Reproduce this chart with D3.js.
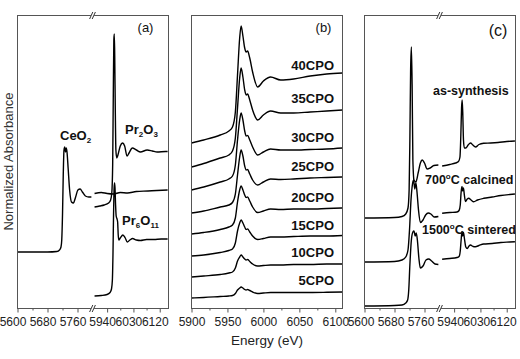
<!DOCTYPE html>
<html>
<head>
<meta charset="utf-8">
<script src="https://cdn.jsdelivr.net/npm/d3@7"></script>
<style>
  body { margin: 0; background: #fff; }
  svg { display: block; font-family: "Liberation Sans", Arial, sans-serif; }
</style>
</head>
<body>
<div id="chart"></div>
<script>
// ---------- data (energy in eV, normalized absorbance with stacking offset) ----------

// tick labels
var ticksCe = [5600, 5680, 5760];
var minorCe = [5640, 5720];
var ticksPr = [5940, 6030, 6120];
var minorPr = [5985, 6075];
var ticksB = [5900, 5950, 6000, 6050, 6100];
var minorB = [5925, 5975, 6025, 6075];

// panel (a): references
var ceo2Ce = [[5600,0.56],[5680,0.56],[5705,0.565],[5712,0.58],[5716,0.61],[5718,0.68],[5720,0.93],[5722,1.33],
  [5724,1.58],[5726,1.61],[5728,1.56],[5730,1.60],[5732,1.56],[5735,1.40],[5739,1.18],[5744,1.06],[5749,1.05],
  [5755,1.11],[5761,1.18],[5767,1.19],[5773,1.16],[5781,1.12],[5790,1.11],[5797,1.11]];
var ceo2Pr = [[5897,1.145],[5920,1.155],[5940,1.145],[5962,1.14],[5985,1.155],[6010,1.15],[6040,1.165],
  [6080,1.17],[6110,1.175],[6147,1.18]];
var pr2o3 = [[5897,1.01],[5915,1.02],[5930,1.03],[5945,1.05],[5952,1.08],[5956,1.15],[5959,1.43],[5961,2.08],
  [5963,2.68],[5964.5,2.74],[5966,2.53],[5968,1.98],[5970,1.58],[5973,1.50],[5977,1.53],[5985,1.62],[5993,1.65],
  [6000,1.62],[6008,1.52],[6015,1.55],[6026,1.60],[6040,1.58],[6054,1.56],[6077,1.58],[6095,1.57],[6111,1.56],
  [6140,1.565],[6147,1.565]];
var pr6o11 = [[5897,0.12],[5920,0.125],[5940,0.135],[5950,0.155],[5955,0.19],[5958,0.28],[5960,0.53],[5962,0.93],
  [5964,1.20],[5965.5,1.25],[5967,1.20],[5969,1.03],[5971,0.92],[5974,0.89],[5976,0.86],[5978,0.73],[5980,0.68],
  [5985,0.70],[5994,0.73],[6002,0.70],[6009,0.66],[6018,0.68],[6027,0.695],[6040,0.68],[6054,0.675],[6075,0.685],
  [6100,0.685],[6125,0.69],[6147,0.69]];

// panel (b): Pr L3 edge of xCPO series
var energyB = [5900,5917,5940,5952,5957,5961,5964,5967,5969,5971.5,5974,5976,5978,5981,5985,5992,6000,6010,6024,6042,6065,6088,6110];
var cpoNames = ["5CPO","10CPO","15CPO","20CPO","25CPO","30CPO","35CPO","40CPO"];
var cpo5  = [0.10,0.105,0.115,0.12,0.125,0.145,0.18,0.20,0.21,0.20,0.185,0.18,0.185,0.175,0.16,0.145,0.15,0.155,0.155,0.155,0.155,0.157,0.16];
var cpo10 = [0.31,0.32,0.335,0.35,0.36,0.40,0.47,0.51,0.53,0.51,0.49,0.48,0.485,0.465,0.44,0.42,0.425,0.43,0.43,0.435,0.435,0.44,0.44];
var cpo15 = [0.52,0.53,0.555,0.575,0.59,0.65,0.77,0.85,0.88,0.85,0.81,0.785,0.79,0.76,0.72,0.685,0.695,0.71,0.71,0.715,0.72,0.72,0.725];
var cpo20 = [0.74,0.755,0.785,0.81,0.83,0.90,1.06,1.18,1.22,1.18,1.13,1.105,1.11,1.07,1.01,0.955,0.97,0.99,0.985,0.99,0.99,0.995,1.00];
var cpo25 = [0.95,0.97,1.01,1.03,1.055,1.14,1.33,1.51,1.58,1.52,1.42,1.38,1.385,1.34,1.28,1.23,1.26,1.29,1.285,1.29,1.30,1.305,1.31];
var cpo30 = [1.18,1.21,1.26,1.29,1.32,1.43,1.68,1.88,1.95,1.88,1.77,1.72,1.725,1.68,1.61,1.53,1.56,1.59,1.58,1.58,1.585,1.59,1.60];
var cpo35 = [1.41,1.445,1.50,1.53,1.57,1.70,2.00,2.30,2.40,2.31,2.18,2.13,2.14,2.08,1.98,1.88,1.93,1.97,1.95,1.95,1.96,1.97,1.98];
var cpo40 = [1.65,1.68,1.73,1.77,1.81,1.96,2.33,2.70,2.82,2.72,2.60,2.56,2.57,2.50,2.36,2.21,2.27,2.31,2.28,2.29,2.32,2.34,2.35];

// panel (c): processing stages, Ce L3 and Pr L3 segments
var synthCe = [[5600,0.90],[5680,0.905],[5700,0.915],[5710,0.94],[5716,1.00],[5719,1.18],[5721,1.68],[5723,2.38],
  [5725,2.61],[5727,2.23],[5729,1.48],[5732,1.28],[5737,1.26],[5743,1.35],[5749,1.45],[5754,1.48],[5760,1.45],
  [5767,1.39],[5775,1.40],[5785,1.425],[5797,1.43]];
var synthPr = [[5899,1.42],[5925,1.435],[5945,1.45],[5955,1.465],[5960,1.51],[5963,1.73],[5965.5,2.00],[5967.5,2.08],
  [5969.5,1.96],[5972,1.68],[5975,1.60],[5980,1.60],[5988,1.63],[5996,1.65],[6004,1.63],[6013,1.61],[6025,1.635],
  [6041,1.647],[6065,1.65],[6090,1.655],[6120,1.665],[6148,1.67]];
var calcCe = [[5600,0.46],[5680,0.465],[5700,0.48],[5710,0.51],[5716,0.58],[5720,0.78],[5724,1.08],[5728,1.24],
  [5731,1.28],[5734,1.19],[5737,1.25],[5740,1.16],[5744,0.98],[5749,0.855],[5756,0.88],[5763,0.93],[5770,0.95],
  [5777,0.94],[5786,0.91],[5797,0.915]];
var calcPr = [[5899,0.947],[5925,0.955],[5950,0.96],[5957,0.975],[5961,1.03],[5964,1.16],[5967,1.215],[5969.5,1.17],
  [5972,1.20],[5975,1.13],[5979,1.065],[5985,1.09],[5990,1.097],[5998,1.08],[6007,1.063],[6020,1.08],[6041,1.097],
  [6070,1.11],[6100,1.125],[6130,1.135],[6148,1.14]];
var sintCe = [[5600,0.02],[5680,0.025],[5700,0.03],[5710,0.05],[5715,0.08],[5718,0.18],[5721,0.43],[5725,0.68],
  [5729,0.76],[5732,0.77],[5735,0.72],[5738,0.75],[5741,0.68],[5745,0.50],[5749,0.40],[5756,0.42],[5764,0.48],
  [5771,0.49],[5779,0.47],[5788,0.44],[5797,0.435]];
var sintPr = [[5899,0.487],[5925,0.495],[5950,0.505],[5957,0.515],[5961,0.57],[5964,0.68],[5967,0.765],[5969.5,0.72],
  [5972,0.755],[5975,0.70],[5980,0.61],[5985,0.595],[5991,0.62],[5996,0.63],[6005,0.615],[6013,0.613],[6025,0.625],
  [6041,0.64],[6070,0.645],[6100,0.655],[6130,0.66],[6148,0.663]];

// ---------- layout ----------
var svgWidth = 520, svgHeight = 359;
var plotTop = 15, plotBottom = 308, panelW = 151, breakAt = 75;
var frameColor = "#555";

var svg = d3.select("#chart").append("svg")
  .attr("width", svgWidth)
  .attr("height", svgHeight);

var y = d3.scaleLinear().domain([0, 2.93]).range([plotBottom, plotTop]);

// broken axis: Ce L3 region on the left, Pr L3 region on the right
function brokenX(x0) {
  return {
    lo: d3.scaleLinear().domain([5600, 5800]).range([x0, x0 + breakAt]),
    hi: d3.scaleLinear().domain([5890, 6150]).range([x0 + breakAt, x0 + panelW])
  };
}

function lineFor(sx) {
  return d3.line()
    .x(d => sx(d[0]))
    .y(d => y(d[1]))
    .curve(d3.curveMonotoneX);
}

function drawCurve(g, sx, data) {
  g.append("path")
    .datum(data)
    .attr("d", lineFor(sx))
    .attr("fill", "none")
    .attr("stroke", "#000")
    .attr("stroke-width", 1.4)
    .attr("stroke-linejoin", "round");
}

function drawFrame(x0) {
  svg.append("rect")
    .attr("x", x0).attr("y", plotTop + 0.5)
    .attr("width", panelW).attr("height", plotBottom - plotTop)
    .attr("fill", "none")
    .attr("stroke", frameColor)
    .attr("stroke-width", 1);
}

// labelShift: the crowded labels of the broken axes sit a little left of their ticks
function drawAxis(scale, majors, minors, labelShift) {
  var g = svg.append("g").attr("transform", `translate(0,${plotBottom + 0.5})`);
  g.call(d3.axisBottom(scale).tickValues(majors).tickSize(4).tickPadding(5).tickFormat(d3.format("d")));
  g.append("g").call(d3.axisBottom(scale).tickValues(minors).tickSize(2).tickFormat(""));
  g.selectAll(".domain").remove();
  g.selectAll("line").attr("stroke", frameColor);
  g.selectAll("text")
    .attr("dx", labelShift || 0)
    .attr("font-family", "Liberation Sans, Arial, sans-serif")
    .attr("font-size", 12)
    .attr("fill", "#222");
  g.attr("font-family", null).attr("font-size", null);
}

function drawBreak(bx) {
  [plotTop + 0.5, plotBottom + 0.5].forEach(function(yy) {
    svg.append("rect")
      .attr("x", bx - 1.6).attr("y", yy - 1.5)
      .attr("width", 3.2).attr("height", 3)
      .attr("fill", "#fff");
    [-1.3, 1.3].forEach(function(off) {
      svg.append("line")
        .attr("x1", bx + off - 1.6).attr("y1", yy + 3.5)
        .attr("x2", bx + off + 1.6).attr("y2", yy - 3.5)
        .attr("stroke", "#333")
        .attr("stroke-width", 1);
    });
  });
}

function label(x, yy, parts, opts) {
  opts = opts || {};
  var t = svg.append("text")
    .attr("x", x).attr("y", yy)
    .attr("font-size", opts.size || 13)
    .attr("font-weight", opts.weight || "bold")
    .attr("text-anchor", opts.anchor || "start")
    .attr("fill", "#111");
  parts.forEach(function(p) {
    if (typeof p === "string") {
      t.append("tspan").text(p);
    } else {
      t.append("tspan").attr("font-size", p.size).attr("dy", p.dy).text(p.t);
      t.append("tspan").attr("font-size", 1).attr("dy", -p.dy).text("\u200a");
    }
  });
  return t;
}

// ---------- panel (a) ----------
var ax0 = 17.5;
var xa = brokenX(ax0);
var ga = svg.append("g");
drawCurve(ga, xa.lo, ceo2Ce);
drawCurve(ga, xa.hi, ceo2Pr);
drawCurve(ga, xa.hi, pr2o3);
drawCurve(ga, xa.hi, pr6o11);
drawFrame(ax0);
drawAxis(xa.lo, ticksCe, minorCe, -5);
drawAxis(xa.hi, ticksPr, minorPr, -5);
drawBreak(ax0 + breakAt);
label(145.5, 32, ["(a)"], {weight: "normal", anchor: "middle", size: 13});
label(60, 140, ["CeO", {t: "2", size: 8, dy: 3}]);
label(125, 134, ["Pr", {t: "2", size: 8, dy: 3}, "O", {t: "3", size: 8, dy: 3}]);
label(122, 225, ["Pr", {t: "6", size: 8, dy: 3}, "O", {t: "11", size: 8, dy: 3}]);

// ---------- panel (b) ----------
var bx0 = 191.5;
var xb = d3.scaleLinear().domain([5900, 6110]).range([bx0, bx0 + panelW]);
var gb = svg.append("g");
[cpo5, cpo10, cpo15, cpo20, cpo25, cpo30, cpo35, cpo40].forEach(function(vals) {
  drawCurve(gb, xb, energyB.map((e, i) => [e, vals[i]]));
});
drawFrame(bx0);
drawAxis(xb, ticksB, minorB, 0);
label(323.5, 32, ["(b)"], {weight: "normal", anchor: "middle", size: 13});
var cpoBaselines = [285, 257, 230, 202, 171, 142, 103, 70];
cpoNames.forEach(function(n, i) {
  label(334, cpoBaselines[i], [n], {anchor: "end", size: 13});
});

// ---------- panel (c) ----------
var cx0 = 364.5;
var xc = brokenX(cx0);
var gc = svg.append("g");
drawCurve(gc, xc.lo, synthCe);
drawCurve(gc, xc.hi, synthPr);
drawCurve(gc, xc.lo, calcCe);
drawCurve(gc, xc.hi, calcPr);
drawCurve(gc, xc.lo, sintCe);
drawCurve(gc, xc.hi, sintPr);
drawFrame(cx0);
drawAxis(xc.lo, ticksCe, minorCe, -4);
drawAxis(xc.hi, ticksPr, minorPr, -4);
drawBreak(cx0 + breakAt);
label(498, 36, ["(c)"], {weight: "normal", anchor: "middle", size: 16});
label(433, 95, ["as-synthesis"], {size: 12.5});
label(425, 184, ["700", {t: "o", size: 8, dy: -5}, "C calcined"], {size: 12.5});
label(422, 234, ["1500", {t: "o", size: 8, dy: -5}, "C sintered"], {size: 12.5});

// ---------- axis titles ----------
svg.append("text")
  .attr("transform", `translate(13, ${(plotTop + plotBottom) / 2}) rotate(-90)`)
  .attr("text-anchor", "middle")
  .attr("font-size", 13)
  .attr("fill", "#333")
  .text("Normalized Absorbance");

svg.append("text")
  .attr("x", bx0 + panelW / 2)
  .attr("y", 345)
  .attr("text-anchor", "middle")
  .attr("font-size", 13.5)
  .attr("fill", "#222")
  .text("Energy (eV)");
</script>
</body>
</html>
